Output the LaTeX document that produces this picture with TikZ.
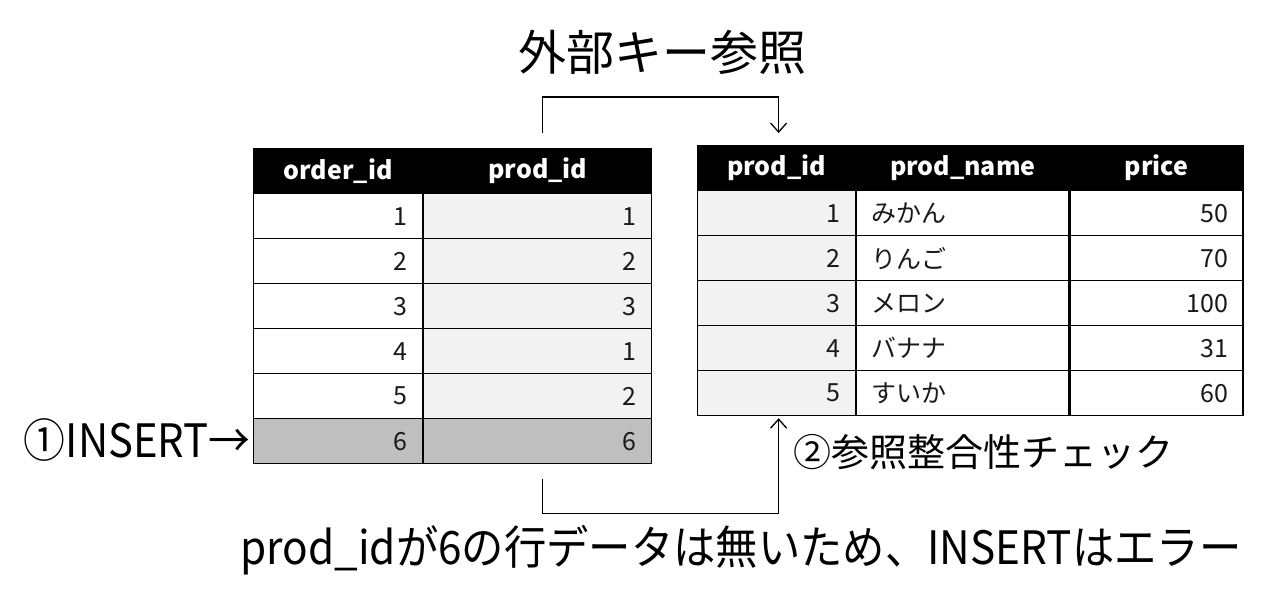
\documentclass[tikz,border=0pt]{standalone}
\usepackage{fontspec}
\setmainfont{Noto Sans CJK JP}
\usetikzlibrary{arrows.meta,positioning,calc}
\definecolor{keybg}{HTML}{F2F2F2}
\definecolor{newrow}{HTML}{BFBFBF}
\definecolor{textdark}{HTML}{1A1A1A}

\begin{document}
\begin{tikzpicture}[x=1pt,y=-1pt,
  cell/.style={draw=black,line width=1.2pt,anchor=north west,
    minimum height=45pt,inner xsep=15pt,inner ysep=0pt,align=right,
    text=textdark,font=\fontsize{25}{28}\selectfont},
  cellw/.style={minimum width=#1,text width=#1-30pt},
  hdr/.style={cell,fill=black,text=white,align=center,
    font=\fontsize{25}{28}\selectfont\bfseries},
  namecell/.style={cell,align=left},
  link/.style={draw=black,line width=1.3pt,-{Straight Barb[length=9pt,width=16pt]}},
  bigtext/.style={font=\fontsize{#1}{#1}\selectfont,inner sep=0pt}]
\useasboundingbox (0,0) rectangle (1268,602);

% orders table
\node[hdr,cellw=169pt] (oh1) at (253,148) {order\_id};
\node[hdr,cellw=228pt] (oh2) at (oh1.north east) {prod\_id};
\foreach \r/\p in {1/1,2/2,3/3,4/1,5/2} {
  \node[cell,cellw=169pt,fill=white] (o\r-1) at (253,{148+45*\r}) {\r};
  \node[cell,cellw=228pt,fill=keybg] (o\r-2) at (o\r-1.north east) {\p};
}
\node[cell,cellw=169pt,fill=newrow] (o6-1) at (253,418) {6};
\node[cell,cellw=228pt,fill=newrow] (o6-2) at (o6-1.north east) {6};

% products table
\node[hdr,cellw=158pt] (ph1) at (697,145) {prod\_id};
\node[hdr,cellw=212pt] (ph2) at (ph1.north east) {prod\_name};
\node[hdr,cellw=173pt] (ph3) at (ph2.north east) {price};
\foreach \r/\n/\v in {1/みかん/50,2/りんご/70,3/メロン/100,4/バナナ/31,5/すいか/60} {
  \node[cell,cellw=158pt,fill=keybg] (p\r-1) at (697,{145+45*\r}) {\r};
  \node[namecell,cellw=212pt,fill=white] (p\r-2) at (p\r-1.north east) {\n};
  \node[cell,cellw=173pt,fill=white] (p\r-3) at (p\r-2.north east) {\v};
}

% labels
\node[bigtext=48] (title) at (662,52) {外部キー参照};
\node[bigtext=46,anchor=east] (insert) at (251,440) {\scalebox{0.91}[1]{①INSERT→}};
\node[bigtext=38,anchor=west] (check) at (793,452) {②参照整合性チェック};
\node[bigtext=46] (err) at (741,550) {\scalebox{0.92}[1]{prod\_idが6の行データは無いため、INSERTはエラー}};

% connectors
\draw[link] ($(oh2.north)+(5,-15)$) -- ++(0,-36) -| ($(ph1.north)+(2,-12)$);
\draw[link] ($(o6-2.south)+(5,15)$) -- ++(0,34) -| ($(p5-1.south)+(2,2)$);
\end{tikzpicture}
\end{document}
